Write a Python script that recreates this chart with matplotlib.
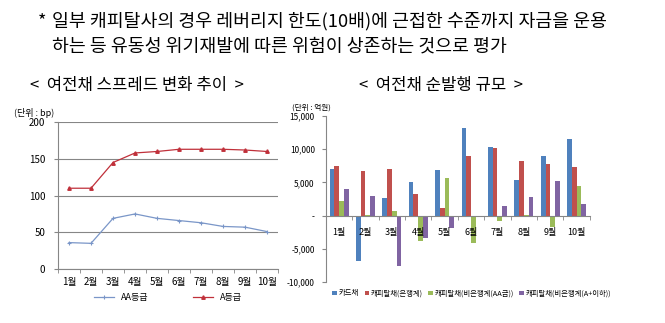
import matplotlib
matplotlib.use("Agg")
import matplotlib.pyplot as plt
from matplotlib.ticker import FuncFormatter
import numpy as np

plt.rcParams['font.family'] = ['Noto Sans CJK KR', 'DejaVu Sans']

# data
months = ['1월', '2월', '3월', '4월', '5월', '6월', '7월', '8월', '9월', '10월']
spread_aa = [36, 35, 69, 75, 69, 66, 63, 58, 57, 51]
spread_a = [110, 110, 145, 158, 160, 163, 163, 163, 162, 160]

issue_labels = ['카드채', '캐피탈채(은행계)', '캐피탈채(비은행계(AA급))', '캐피탈채(비은행계(A+이하))']
card = [7000, -6850, 2700, 5100, 6850, 13150, 10300, 5400, 8950, 11600]
cap_bank = [7500, 6650, 7000, 3200, 1200, 8950, 10200, 8200, 7700, 7250]
cap_aa = [2200, 50, 700, -3800, 5600, -4200, -750, 50, -1650, 4450]
cap_a = [4000, 2900, -7600, -3450, -1850, -100, 1450, 2800, 5250, 1750]

fig = plt.figure(figsize=(6.65, 3.23), dpi=100)

fig.text(0.057, 0.935, '*', fontsize=13, va='center')
fig.text(0.078, 0.935, '일부 캐피탈사의 경우 레버리지 한도(10배)에 근접한 수준까지 자금을 운용',
         fontsize=13.2, va='center')
fig.text(0.078, 0.855, '하는 등 유동성 위기재발에 따른 위험이 상존하는 것으로 평가',
         fontsize=13.2, va='center')
fig.text(0.045, 0.735, '<  여전채 스프레드 변화 추이  >', fontsize=12, va='center')
fig.text(0.54, 0.735, '<  여전채 순발행 규모  >', fontsize=12, va='center')

# left: spread lines
ax1 = fig.add_axes([0.0872, 0.167, 0.331, 0.455])
x = np.arange(len(months))
ax1.plot(x, spread_aa, color='#7a96c8', lw=0.9, marker='+', ms=3.5, mew=0.8, label='AA등급')
ax1.plot(x, spread_a, color='#c0303a', lw=0.9, marker='^', ms=2.5, label='A등급')
ax1.set_xlim(-0.5, 9.5)
ax1.set_ylim(0, 200)
ax1.set_yticks([0, 50, 100, 150, 200])
ax1.set_xticks(x)
ax1.set_xticklabels(months)
ax1.set_xticks(np.arange(-0.5, 10, 1), minor=True)
ax1.tick_params(axis='x', which='major', length=0, labelsize=7, pad=6)
ax1.tick_params(axis='x', which='minor', length=3, color='#868686')
ax1.tick_params(axis='y', length=3, color='#868686', labelsize=7, pad=6)
ax1.grid(axis='y', color='#868686', lw=0.8)
ax1.set_axisbelow(True)
for s in ['top', 'right']:
    ax1.spines[s].set_visible(False)
for s in ['left', 'bottom']:
    ax1.spines[s].set_color('#868686')
ax1.text(-0.2, 1.04, '(단위 : bp)', transform=ax1.transAxes, fontsize=6.5)
ax1.legend(loc='upper center', bbox_to_anchor=(0.5, -0.11), ncol=2, frameon=False,
           fontsize=6.5, handlelength=2.2, columnspacing=5)

# right: net issuance bars
ax2 = fig.add_axes([0.490, 0.127, 0.397, 0.514])
w = 0.18
series = [card, cap_bank, cap_aa, cap_a]
colors = ['#4f81bd', '#c0504d', '#9bbb59', '#8064a2']
for i, (vals, c, lab) in enumerate(zip(series, colors, issue_labels)):
    ax2.bar(x + (i - 1.5) * w, vals, w, color=c, label=lab)
ax2.set_xlim(-0.5, 9.5)
ax2.set_ylim(-10000, 15000)
ax2.set_yticks([-10000, -5000, 0, 5000, 10000, 15000])
ax2.yaxis.set_major_formatter(FuncFormatter(lambda v, p: '-' if v == 0 else f'{v:,.0f}'))
ax2.spines['bottom'].set_position(('data', 0))
ax2.spines['bottom'].set_color('#868686')
ax2.spines['left'].set_color('#868686')
for s in ['top', 'right']:
    ax2.spines[s].set_visible(False)
ax2.set_xticks(x)
ax2.set_xticklabels(months)
ax2.set_xticks(np.arange(-0.5, 10, 1), minor=True)
ax2.tick_params(axis='x', which='major', length=0, labelsize=6.5, pad=9)
ax2.tick_params(axis='x', which='minor', length=3, color='#868686')
ax2.tick_params(axis='y', length=3, color='#868686', labelsize=6, pad=5)
ax2.text(-0.13, 1.04, '(단위 : 억원)', transform=ax2.transAxes, fontsize=5.5)
ax2.legend(loc='upper left', bbox_to_anchor=(0.0, -0.005), ncol=4, frameon=False,
           fontsize=5.3, handlelength=0.6, handleheight=0.6, handletextpad=0.3,
           columnspacing=0.7)

fig.savefig('out.png', dpi=100)
